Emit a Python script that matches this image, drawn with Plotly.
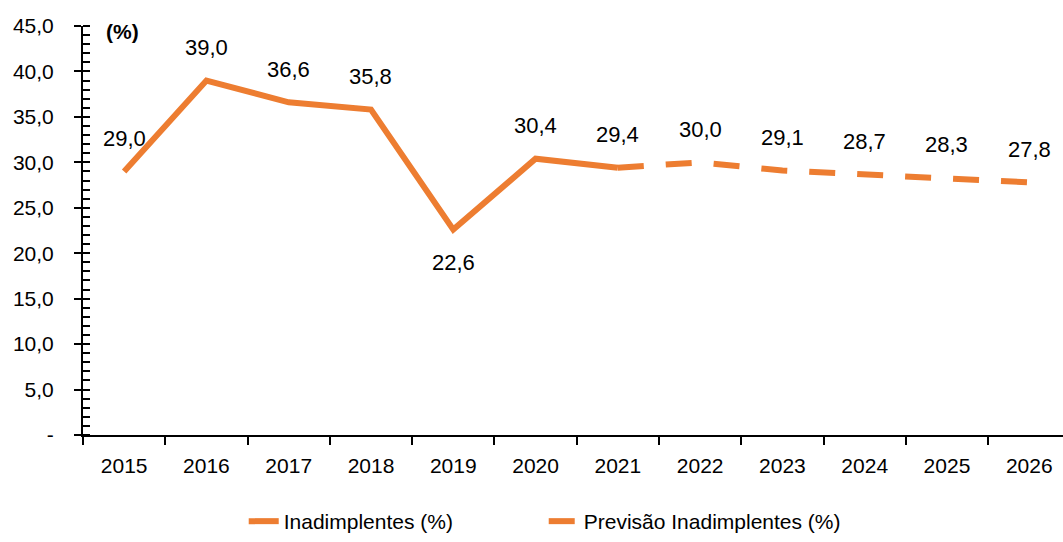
import plotly.graph_objects as go

years = ["2015", "2016", "2017", "2018", "2019", "2020", "2021",
         "2022", "2023", "2024", "2025", "2026"]
actual_years = years[:7]
actual_vals = [29.0, 39.0, 36.6, 35.8, 22.6, 30.4, 29.4]
forecast_years = years[6:]
forecast_vals = [29.4, 30.0, 29.1, 28.7, 28.3, 27.8]
label_vals = [29.0, 39.0, 36.6, 35.8, 22.6, 30.4, 29.4, 30.0, 29.1, 28.7, 28.3, 27.8]
label_below = ["2019"]
ytick_vals = [0, 5, 10, 15, 20, 25, 30, 35, 40, 45]
ytick_text = ["-", "5,0", "10,0", "15,0", "20,0", "25,0", "30,0", "35,0", "40,0", "45,0"]

ORANGE = "#ED7D31"
FONT = "Liberation Sans, Arial, sans-serif"

fig = go.Figure()
fig.add_trace(go.Scatter(
    x=actual_years, y=actual_vals, mode="lines", name="Inadimplentes (%)",
    line=dict(color=ORANGE, width=6), hoverinfo="skip"))
fig.add_trace(go.Scatter(
    x=forecast_years, y=forecast_vals, mode="lines", name="Previsão Inadimplentes (%)",
    line=dict(color=ORANGE, width=6, dash="26px,22px"), hoverinfo="skip"))
# invisible trace for crossing major ticks
fig.add_trace(go.Scatter(x=[years[0]], y=[0], yaxis="y2", mode="markers",
                         marker=dict(opacity=0), showlegend=False, hoverinfo="skip"))

for i, (yr, v) in enumerate(zip(years, label_vals)):
    below = yr in label_below
    fig.add_annotation(x=i, y=v, xref="x", yref="y", text=f"{v:.1f}".replace(".", ","),
                       showarrow=False, yshift=-33 if below else 33,
                       font=dict(size=22, color="#000000", family=FONT))

fig.add_annotation(x=0.021, y=1 - (32 - 26) / 410, xref="paper", yref="paper",
                   xanchor="left", yanchor="middle",
                   text="<b>(%)</b>", showarrow=False,
                   font=dict(size=21, color="#000000", family=FONT))

fig.update_layout(
    width=1063, height=542,
    margin=dict(l=83, r=0, t=26, b=106),
    plot_bgcolor="white", paper_bgcolor="white",
    font=dict(family=FONT, size=21, color="#000000"),
    showlegend=True,
    legend=dict(orientation="h", x=0.164, xanchor="left", y=-0.212, yanchor="middle",
                font=dict(size=21, family=FONT), entrywidth=255, entrywidthmode="pixels",
                tracegroupgap=0),
    xaxis=dict(type="category", range=[-0.5, 11.41], showline=True, linecolor="#000000",
               linewidth=2, ticks="outside", ticklen=8, tickwidth=2, tickcolor="#000000",
               tickson="boundaries", showgrid=False, zeroline=False, automargin=False,
               tickfont=dict(size=21, family=FONT), ticklabelstandoff=11),
    yaxis=dict(range=[0, 45], tickvals=ytick_vals, ticktext=ytick_text, showline=True,
               linecolor="#000000", linewidth=2, ticks="outside", ticklen=7, tickwidth=2,
               tickcolor="#000000", showgrid=False, zeroline=False, automargin=False,
               tickfont=dict(size=21, family=FONT), ticklabelstandoff=16,
               minor=dict(dtick=1, ticks="inside", ticklen=7, tickwidth=1.5,
                          tickcolor="#000000", showgrid=False)),
    yaxis2=dict(range=[0, 45], overlaying="y", side="left", tickvals=ytick_vals,
                showticklabels=False, ticks="inside", ticklen=7, tickwidth=2, automargin=False,
                tickcolor="#000000", showline=False, showgrid=False, zeroline=False),
)

fig.write_html("out.html", config={"displayModeBar": False},
               post_script="document.body.style.margin='0';")
